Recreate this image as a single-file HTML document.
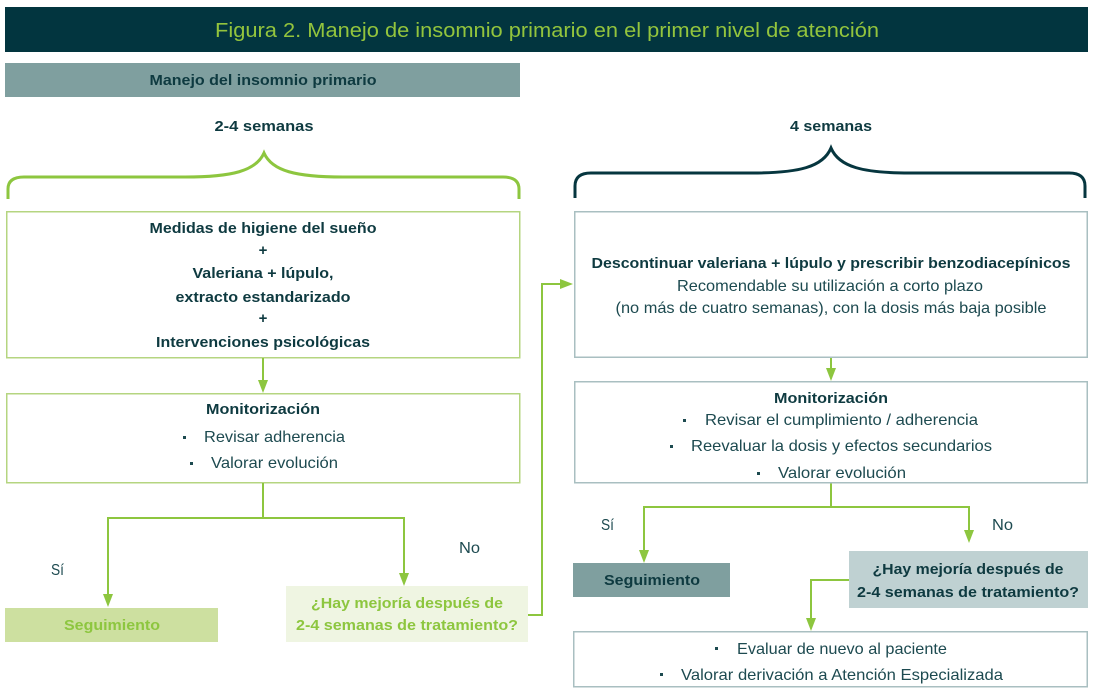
<!DOCTYPE html>
<html>
<head>
<meta charset="utf-8">
<style>
  html,body{margin:0;padding:0;background:#fff;}
  svg{display:block;}
  text{font-family:"Liberation Sans",Arial,sans-serif;}
  .b{font-weight:bold;font-size:15px;fill:#0e3a40;}
  .n{font-weight:normal;font-size:16px;fill:#1d4a50;}
  .g{font-weight:bold;font-size:15px;fill:#8dc63f;}
</style>
</head>
<body>
<svg width="1094" height="696" viewBox="0 0 1094 696" xmlns="http://www.w3.org/2000/svg">
  <!-- Title bar -->
  <rect x="5" y="7" width="1083" height="45" fill="#02353f"/>
  <text x="547" y="37" text-anchor="middle" font-size="20" fill="#93c43d" textLength="664" lengthAdjust="spacingAndGlyphs">Figura 2. Manejo de insomnio primario en el primer nivel de atención</text>

  <!-- Header -->
  <rect x="5" y="63" width="515" height="34" fill="#7f9f9f"/>
  <text class="b" x="263" y="85" text-anchor="middle" textLength="227" lengthAdjust="spacingAndGlyphs">Manejo del insomnio primario</text>

  <!-- 2-4 semanas -->
  <text class="b" x="264" y="131" text-anchor="middle" textLength="99" lengthAdjust="spacingAndGlyphs">2-4 semanas</text>
  <path d="M8,199 L8,189 Q8,177 24,177 L185,177 C232,177 256,171 264,153 C272,171 296,177 343,177 L503,177 Q519,177 519,189 L519,199" fill="none" stroke="#8dc63f" stroke-width="3"/>

  <!-- 4 semanas -->
  <text class="b" x="831" y="131" text-anchor="middle" textLength="82" lengthAdjust="spacingAndGlyphs">4 semanas</text>
  <path d="M575,198 L575,186 Q575,173 591,173 L752,173 C799,173 823,167 831,148 C839,167 863,173 910,173 L1069,173 Q1085,173 1085,186 L1085,198" fill="none" stroke="#06363f" stroke-width="3"/>

  <!-- Box 1 -->
  <rect x="6.75" y="211.75" width="513" height="146" fill="#fff" stroke="#b5d580" stroke-width="1.5"/>
  <text class="b" x="263" y="233" text-anchor="middle" textLength="227" lengthAdjust="spacingAndGlyphs">Medidas de higiene del sueño</text>
  <text class="b" x="263" y="255" text-anchor="middle">+</text>
  <text class="b" x="263" y="278" text-anchor="middle" textLength="141" lengthAdjust="spacingAndGlyphs">Valeriana + lúpulo,</text>
  <text class="b" x="263" y="302" text-anchor="middle" textLength="175" lengthAdjust="spacingAndGlyphs">extracto estandarizado</text>
  <text class="b" x="263" y="323" text-anchor="middle">+</text>
  <text class="b" x="263" y="347" text-anchor="middle" textLength="214" lengthAdjust="spacingAndGlyphs">Intervenciones psicológicas</text>

  <!-- Monitor left -->
  <rect x="6.75" y="393.75" width="513" height="89" fill="#fff" stroke="#b5d580" stroke-width="1.5"/>
  <text class="b" x="263" y="414" text-anchor="middle" textLength="114" lengthAdjust="spacingAndGlyphs">Monitorización</text>
  <rect x="183" y="436" width="3" height="3" fill="#1d4a50"/>
  <text class="n" x="204" y="442" textLength="141" lengthAdjust="spacingAndGlyphs">Revisar adherencia</text>
  <rect x="190" y="462" width="3" height="3" fill="#1d4a50"/>
  <text class="n" x="211" y="468" textLength="127" lengthAdjust="spacingAndGlyphs">Valorar evolución</text>

  <!-- Connectors -->
  <g stroke="#8dc63f" stroke-width="2" fill="none">
    <line x1="263" y1="358" x2="263" y2="382"/>
    <path d="M263,483 V518 M108,518 H404 M108,517 V596 M404,517 V575"/>
    <path d="M528,615 H542 V284 H562"/>
    <line x1="831" y1="357" x2="831" y2="370"/>
    <path d="M831,483 V507 M644,507 H969 M644,506 V552 M969,506 V532"/>
    <path d="M849,580 H811 V620"/>
  </g>
  <g fill="#8dc63f">
    <polygon points="258,380 268,380 263,393"/>
    <polygon points="103,594 113,594 108,607"/>
    <polygon points="399,573 409,573 404,586"/>
    <polygon points="560,279 560,289 573,284"/>
    <polygon points="826,368 836,368 831,381"/>
    <polygon points="639,550 649,550 644,563"/>
    <polygon points="964,530 974,530 969,543"/>
    <polygon points="806,618 816,618 811,631"/>
  </g>

  <!-- Si / No left -->
  <text class="n" x="51" y="575" textLength="13" lengthAdjust="spacingAndGlyphs">Sí</text>
  <text class="n" x="459" y="553" textLength="21" lengthAdjust="spacingAndGlyphs">No</text>

  <!-- Seguimiento left -->
  <rect x="5" y="608" width="213" height="34" fill="#cde0a0"/>
  <text class="g" x="112" y="630" text-anchor="middle" textLength="96" lengthAdjust="spacingAndGlyphs">Seguimiento</text>

  <!-- Question left -->
  <rect x="286" y="586" width="242" height="56" fill="#eff5e2"/>
  <text class="g" x="407" y="608" text-anchor="middle" textLength="192" lengthAdjust="spacingAndGlyphs">¿Hay mejoría después de</text>
  <text class="g" x="407" y="630" text-anchor="middle" textLength="222" lengthAdjust="spacingAndGlyphs">2-4 semanas de tratamiento?</text>

  <!-- Box 2 -->
  <rect x="574.75" y="211.75" width="512.5" height="145.5" fill="#fff" stroke="#a9bfc1" stroke-width="1.5"/>
  <text class="b" x="831" y="268" text-anchor="middle" textLength="479" lengthAdjust="spacingAndGlyphs">Descontinuar valeriana + lúpulo y prescribir benzodiacepínicos</text>
  <text class="n" x="830" y="291" text-anchor="middle" textLength="306" lengthAdjust="spacingAndGlyphs">Recomendable su utilización a corto plazo</text>
  <text class="n" x="831" y="313" text-anchor="middle" textLength="431" lengthAdjust="spacingAndGlyphs">(no más de cuatro semanas), con la dosis más baja posible</text>

  <!-- Monitor right -->
  <rect x="574.75" y="381.75" width="512.5" height="101" fill="#fff" stroke="#a9bfc1" stroke-width="1.5"/>
  <text class="b" x="831" y="403" text-anchor="middle" textLength="114" lengthAdjust="spacingAndGlyphs">Monitorización</text>
  <rect x="683" y="419" width="3" height="3" fill="#1d4a50"/>
  <text class="n" x="705" y="425" textLength="273" lengthAdjust="spacingAndGlyphs">Revisar el cumplimiento / adherencia</text>
  <rect x="670" y="445" width="3" height="3" fill="#1d4a50"/>
  <text class="n" x="691" y="451" textLength="301" lengthAdjust="spacingAndGlyphs">Reevaluar la dosis y efectos secundarios</text>
  <rect x="757" y="472" width="3" height="3" fill="#1d4a50"/>
  <text class="n" x="778" y="478" textLength="128" lengthAdjust="spacingAndGlyphs">Valorar evolución</text>

  <!-- Si / No right -->
  <text class="n" x="601" y="530" textLength="13" lengthAdjust="spacingAndGlyphs">Sí</text>
  <text class="n" x="992" y="530" textLength="21" lengthAdjust="spacingAndGlyphs">No</text>

  <!-- Seguimiento right -->
  <rect x="573" y="563" width="157" height="34" fill="#7f9f9f"/>
  <text class="b" x="652" y="585" text-anchor="middle" textLength="96" lengthAdjust="spacingAndGlyphs">Seguimiento</text>

  <!-- Question right -->
  <rect x="849" y="551" width="239" height="57" fill="#bfd1d2"/>
  <text class="b" x="968" y="574" text-anchor="middle" textLength="191" lengthAdjust="spacingAndGlyphs">¿Hay mejoría después de</text>
  <text class="b" x="968" y="597" text-anchor="middle" textLength="222" lengthAdjust="spacingAndGlyphs">2-4 semanas de tratamiento?</text>

  <!-- Final box -->
  <rect x="573.75" y="631.75" width="513.5" height="55" fill="#fff" stroke="#a9bfc1" stroke-width="1.5"/>
  <rect x="715" y="647" width="3" height="3" fill="#1d4a50"/>
  <text class="n" x="737" y="654" textLength="210" lengthAdjust="spacingAndGlyphs">Evaluar de nuevo al paciente</text>
  <rect x="660" y="673" width="3" height="3" fill="#1d4a50"/>
  <text class="n" x="681" y="680" textLength="322" lengthAdjust="spacingAndGlyphs">Valorar derivación a Atención Especializada</text>
</svg>
</body>
</html>
